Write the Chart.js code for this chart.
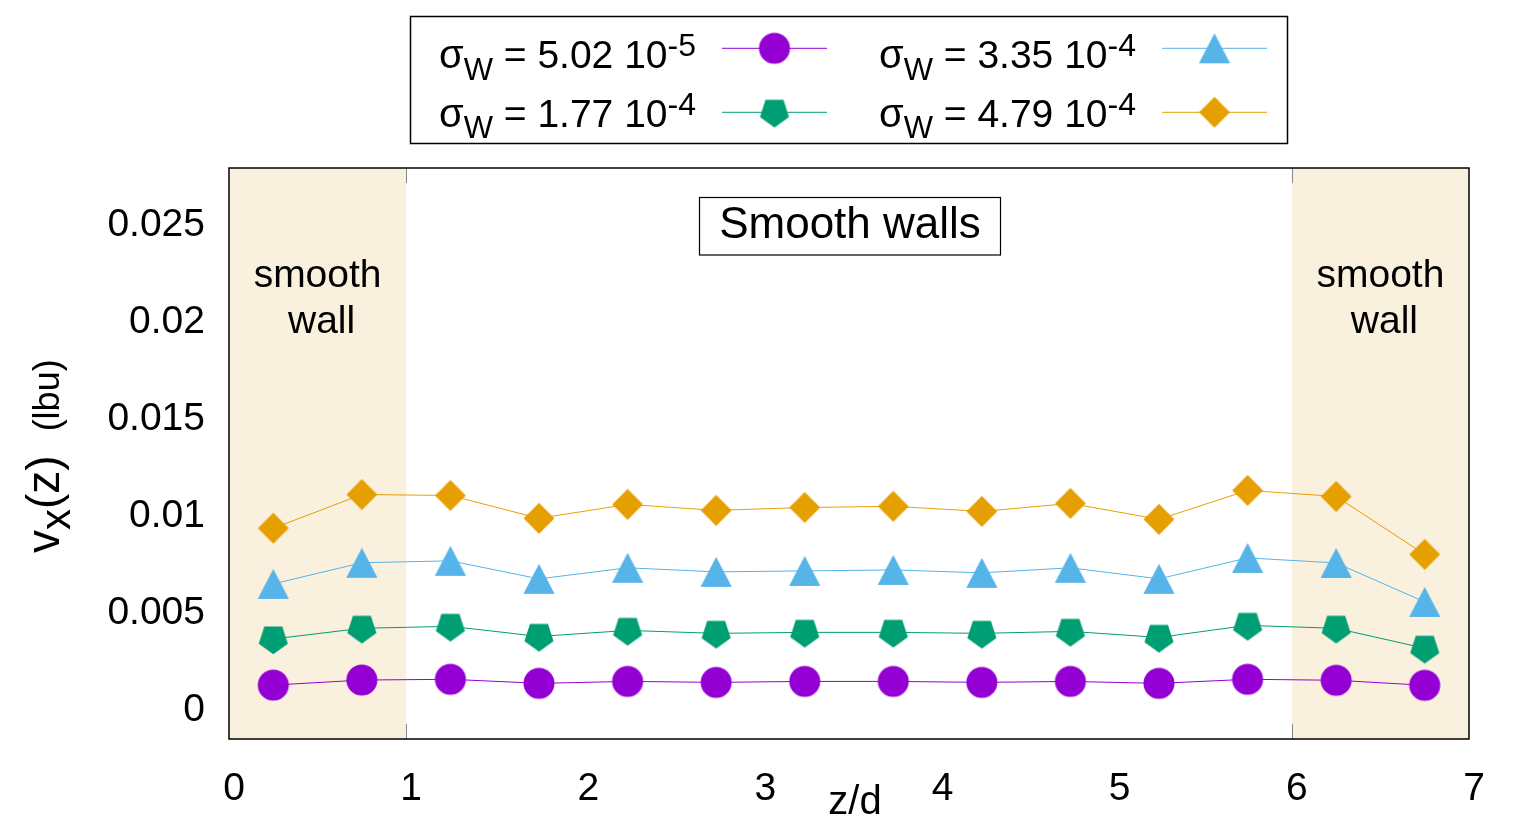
<!DOCTYPE html>
<html>
<head>
<meta charset="utf-8">
<script src="https://cdn.jsdelivr.net/npm/chart.js@4.4.0/dist/chart.umd.min.js"></script>
<style>
  html, body { margin: 0; padding: 0; background: #fff; }
  #wrap { width: 1536px; height: 819px; position: relative; }
</style>
</head>
<body>
<div id="wrap"><canvas id="velChart"></canvas></div>
<script>
// z/d of each bin
const zd = [0.25, 0.75, 1.25, 1.75, 2.25, 2.75, 3.25, 3.75, 4.25, 4.75, 5.25, 5.75, 6.25, 6.75];

// vx(z) in lbu for each wall stress sigma_W
const vxSig502e5 = [0.00113, 0.00139, 0.00143, 0.00122, 0.00132, 0.00127, 0.00132, 0.00132, 0.00127, 0.00132, 0.00122, 0.00143, 0.00138, 0.00112];
const vxSig177e4 = [0.00351, 0.00406, 0.00416, 0.00364, 0.00395, 0.00380, 0.00385, 0.00385, 0.00380, 0.00390, 0.00359, 0.00421, 0.00406, 0.00303];
const vxSig335e4 = [0.00635, 0.00744, 0.00754, 0.00661, 0.00718, 0.00697, 0.00702, 0.00707, 0.00692, 0.00718, 0.00661, 0.00769, 0.00743, 0.00542];
const vxSig479e4 = [0.00922, 0.01096, 0.01091, 0.00973, 0.01045, 0.01014, 0.01029, 0.01035, 0.01009, 0.01050, 0.00968, 0.01117, 0.01086, 0.00787];

const sigMantissa = ['5.02', '1.77', '3.35', '4.79'];
const sigExponent = ['-5', '-4', '-4', '-4'];

const yTicks = [0, 0.005, 0.01, 0.015, 0.02, 0.025];
const yTickLabels = ['0', '0.005', '0.01', '0.015', '0.02', '0.025'];
const xTicks = [0, 1, 2, 3, 4, 5, 6, 7];

// z/d ranges covered by the walls
const wallZones = [[0, 1], [6, 7]];

const FONT = '"Liberation Sans", Arial, Helvetica, sans-serif';
const colors = ['#9400d3', '#009e73', '#56b4e9', '#e69f00'];
const shapes = ['circle', 'pentagon', 'triangle', 'diamond'];

// gnuplot-like point symbols as small canvases
function makeMarker(shape, color) {
    const c = document.createElement('canvas');
    c.width = 34; c.height = 34;
    const g = c.getContext('2d');
    const cx = 17, cy = 17;
    g.fillStyle = color;
    g.beginPath();
    if (shape === 'circle') {
        g.arc(cx, cy, 15.5, 0, Math.PI * 2);
    } else if (shape === 'pentagon') {
        const R = 15.3;
        for (let k = 0; k < 5; k++) {
            const a = Math.PI / 2 + k * 2 * Math.PI / 5;
            const px = cx + R * Math.cos(a), py = cy + R * Math.sin(a);
            if (k === 0) g.moveTo(px, py); else g.lineTo(px, py);
        }
    } else if (shape === 'triangle') {
        g.moveTo(cx, cy - 14.9);
        g.lineTo(cx + 15.6, cy + 14.9);
        g.lineTo(cx - 15.6, cy + 14.9);
    } else {
        const r = 15.4;
        g.moveTo(cx, cy - r); g.lineTo(cx + r, cy); g.lineTo(cx, cy + r); g.lineTo(cx - r, cy);
    }
    g.closePath();
    g.fill();
    return c;
}
const markers = shapes.map((s, i) => makeMarker(s, colors[i]));

const seriesValues = [vxSig502e5, vxSig177e4, vxSig335e4, vxSig479e4];
const datasets = seriesValues.map((vals, i) => ({
    label: 'sigma_W = ' + sigMantissa[i] + ' 10^' + sigExponent[i],
    data: zd.map((z, k) => ({ x: z, y: vals[k] })),
    borderColor: colors[i],
    backgroundColor: colors[i],
    borderWidth: 1,
    pointStyle: markers[i],
    pointRadius: 15,
    showLine: true,
    tension: 0
}));

// draw text pieces: [text, fontSize, baselineShift]
function drawRich(ctx, parts, x, y) {
    parts.forEach(p => {
        ctx.font = p[1] + 'px ' + FONT;
        ctx.fillText(p[0], x, y + p[2]);
        x += ctx.measureText(p[0]).width;
    });
    return x;
}

const wallPlugin = {
    id: 'walls',
    beforeDatasetsDraw(chart) {
        const { ctx, chartArea: a, scales: { x } } = chart;
        ctx.save();
        ctx.fillStyle = '#faf0de';
        wallZones.forEach(w => {
            const x0 = x.getPixelForValue(w[0]), x1 = x.getPixelForValue(w[1]);
            ctx.fillRect(x0, a.top, x1 - x0, a.bottom - a.top);
        });
        // the little gray marks at the wall edges
        ctx.strokeStyle = '#888';
        ctx.lineWidth = 1;
        [1, 6].forEach(v => {
            const px = Math.round(x.getPixelForValue(v)) + 0.5;
            ctx.beginPath();
            ctx.moveTo(px, a.top); ctx.lineTo(px, a.top + 15);
            ctx.moveTo(px, a.bottom); ctx.lineTo(px, a.bottom - 15);
            ctx.stroke();
        });
        ctx.fillStyle = '#000';
        ctx.textAlign = 'center';
        ctx.textBaseline = 'alphabetic';
        ctx.font = '39px ' + FONT;
        wallZones.forEach(w => {
            const cx = x.getPixelForValue((w[0] + w[1]) / 2);
            ctx.fillText('smooth', cx, a.top + 119);
            ctx.fillText('wall', cx + 4, a.top + 165);
        });
        ctx.restore();
    },
    afterDraw(chart) {
        const { ctx, chartArea: a } = chart;
        ctx.save();
        ctx.strokeStyle = '#000';
        ctx.lineWidth = 1.5;
        ctx.strokeRect(a.left, a.top, a.right - a.left, a.bottom - a.top);

        // boxed title label
        ctx.lineWidth = 1.2;
        ctx.strokeRect(699.5, 197.5, 301, 57.5);
        ctx.fillStyle = '#000';
        ctx.textAlign = 'center';
        ctx.textBaseline = 'alphabetic';
        ctx.font = '44px ' + FONT;
        ctx.fillText('Smooth walls', 850, 238);

        // x axis title
        ctx.font = '40px ' + FONT;
        ctx.fillText('z/d', 855, 814);

        // y axis title, rotated
        ctx.textAlign = 'left';
        ctx.save();
        ctx.translate(59, 553);
        ctx.rotate(-Math.PI / 2);
        let tx = drawRich(ctx, [['v', 46, 0], ['x', 42, 11], ['(z)', 46, 0]], 0, 0);
        drawRich(ctx, [['(lbu)', 36, 0]], tx + 24, 0);
        ctx.restore();

        // legend box
        ctx.lineWidth = 1.5;
        ctx.strokeRect(410.5, 16.5, 877, 127);
        const cols = [{ tx: 439, l0: 722, l1: 827 }, { tx: 879, l0: 1162, l1: 1267 }];
        const rows = [{ ly: 48.3, ty: 68.3 }, { ly: 112.3, ty: 126.7 }];
        for (let i = 0; i < 4; i++) {
            const c = cols[Math.floor(i / 2)], r = rows[i % 2];
            ctx.fillStyle = '#000';
            drawRich(ctx, [['\u03c3', 40, 0], ['W', 31, 11.5], [' = ' + sigMantissa[i] + ' 10', 39, 0], [sigExponent[i], 32, -12]], c.tx, r.ty);
            ctx.strokeStyle = colors[i];
            ctx.lineWidth = 1;
            ctx.beginPath();
            ctx.moveTo(c.l0, r.ly); ctx.lineTo(c.l1, r.ly);
            ctx.stroke();
            const m = markers[i];
            ctx.drawImage(m, (c.l0 + c.l1) / 2 - m.width / 2, r.ly - m.height / 2);
        }
        ctx.restore();
    }
};

const velChart = new Chart(document.getElementById('velChart').getContext('2d'), {
    type: 'scatter',
    data: { datasets: datasets },
    options: {
        responsive: true,
        maintainAspectRatio: false,
        animation: false,
        layout: { padding: { left: 0, right: 67, top: 168, bottom: 0 } },
        plugins: { legend: { display: false }, tooltip: { enabled: false } },
        scales: {
            x: {
                type: 'linear',
                min: 0, max: 7,
                afterFit: s => { s.height = 80; },
                afterBuildTicks: s => { s.ticks = xTicks.map(v => ({ value: v })); },
                grid: { display: false, drawTicks: false },
                border: { display: false },
                ticks: {
                    color: '#000',
                    font: { family: FONT, size: 39 },
                    padding: 27,
                    labelOffset: 5,
                    maxRotation: 0,
                    callback: v => String(v)
                }
            },
            y: {
                type: 'linear',
                min: -0.00165, max: 0.0278,
                afterFit: s => { s.width = 229; },
                afterBuildTicks: s => { s.ticks = yTicks.map(v => ({ value: v })); },
                grid: { display: false, drawTicks: false },
                border: { display: false },
                ticks: {
                    color: '#000',
                    font: { family: FONT, size: 39 },
                    padding: 24,
                    labelOffset: 3,
                    callback: (v, i) => yTickLabels[i]
                }
            }
        }
    },
    plugins: [wallPlugin]
});
</script>
</body>
</html>
